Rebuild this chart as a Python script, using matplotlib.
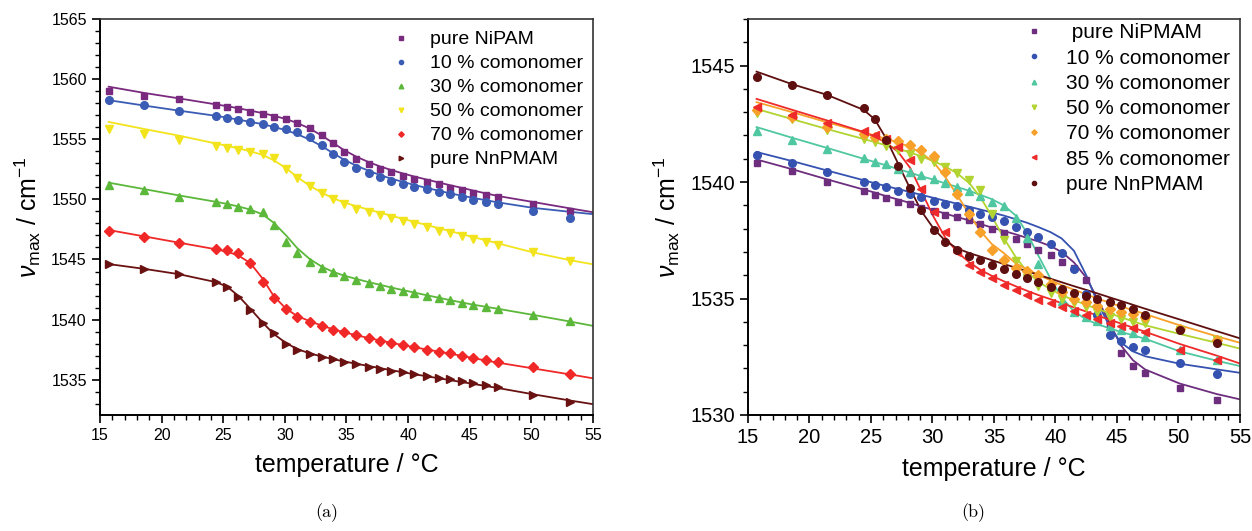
import matplotlib
matplotlib.use("Agg")
import matplotlib.pyplot as plt
from matplotlib.ticker import MultipleLocator

plt.rcParams["font.family"] = ["Liberation Sans", "DejaVu Sans"]
plt.rcParams["mathtext.fontset"] = "custom"
plt.rcParams["mathtext.rm"] = "Liberation Sans"
plt.rcParams["mathtext.it"] = "Liberation Sans:italic"

# measured temperatures (°C), same for every sample
T = [15.7, 18.6, 21.4, 24.4, 25.3, 26.2, 27.2, 28.2, 29.1, 30.1, 31.0, 32.0,
     33.0, 33.9, 34.8, 35.8, 36.8, 37.7, 38.6, 39.6, 40.5, 41.5, 42.5, 43.4,
     44.4, 45.3, 46.3, 47.3, 50.1, 53.1]
# temperatures at which the fitted curves were read
FIT_T = T + [55.0]

# ---- panel (a): measured band maxima ----
a_nipam = [1559.04, 1558.6, 1558.35, 1557.88, 1557.7, 1557.5, 1557.28, 1557.08,
           1556.86, 1556.66, 1556.37, 1555.93, 1555.36, 1554.67, 1553.9, 1553.38,
           1552.95, 1552.55, 1552.25, 1551.95, 1551.67, 1551.45, 1551.26, 1550.98,
           1550.79, 1550.57, 1550.37, 1550.18, 1549.62, 1549.07]
a_10 = [1558.27, 1557.85, 1557.35, 1556.94, 1556.76, 1556.57, 1556.41, 1556.25,
        1556.06, 1555.86, 1555.63, 1555.22, 1554.53, 1553.78, 1553.1, 1552.62,
        1552.22, 1551.84, 1551.53, 1551.3, 1551.06, 1550.84, 1550.6, 1550.43,
        1550.23, 1549.95, 1549.76, 1549.62, 1549.07, 1548.43]
a_30 = [1551.2, 1550.79, 1550.23, 1549.75, 1549.58, 1549.4, 1549.18, 1548.98,
        1547.9, 1546.48, 1545.52, 1544.83, 1544.3, 1543.95, 1543.6, 1543.3,
        1543.03, 1542.78, 1542.57, 1542.39, 1542.2, 1542.0, 1541.83, 1541.6,
        1541.42, 1541.23, 1541.09, 1540.9, 1540.4, 1539.9]
a_50 = [1555.83, 1555.44, 1554.94, 1554.42, 1554.27, 1554.08, 1553.97, 1553.78,
        1553.43, 1552.5, 1551.76, 1551.1, 1550.56, 1550.07, 1549.62, 1549.23,
        1548.98, 1548.71, 1548.43, 1548.2, 1547.95, 1547.68, 1547.4, 1547.19,
        1546.96, 1546.69, 1546.44, 1546.21, 1545.6, 1544.86]
a_70 = [1547.38, 1546.9, 1546.36, 1545.9, 1545.75, 1545.57, 1544.75, 1543.1,
        1541.8, 1540.9, 1540.25, 1539.82, 1539.5, 1539.17, 1538.95, 1538.73,
        1538.48, 1538.25, 1538.09, 1537.9, 1537.7, 1537.5, 1537.34, 1537.2,
        1537.0, 1536.8, 1536.64, 1536.44, 1536.03, 1535.47]
a_nnpmam = [1544.6, 1544.2, 1543.76, 1543.16, 1542.75, 1541.85, 1540.78, 1539.73,
            1538.85, 1537.98, 1537.49, 1537.15, 1536.93, 1536.7, 1536.46, 1536.3,
            1536.1, 1535.93, 1535.76, 1535.63, 1535.47, 1535.32, 1535.18, 1535.07,
            1534.9, 1534.77, 1534.57, 1534.43, 1533.74, 1533.19]

# ---- panel (a): fitted curves ----
af_nipam = [1559.37, 1558.85, 1558.4, 1557.9, 1557.75, 1557.58, 1557.38, 1557.17,
            1556.95, 1556.68, 1556.35, 1555.9, 1555.3, 1554.7, 1554.1, 1553.55,
            1553.1, 1552.75, 1552.45, 1552.15, 1551.9, 1551.65, 1551.4, 1551.18,
            1550.95, 1550.73, 1550.5, 1550.28, 1549.79, 1549.26, 1548.93]
af_10 = [1558.25, 1557.8, 1557.38, 1556.95, 1556.8, 1556.63, 1556.45, 1556.25,
         1556.03, 1555.75, 1555.42, 1554.98, 1554.42, 1553.85, 1553.3, 1552.8,
         1552.38, 1552.03, 1551.73, 1551.45, 1551.2, 1550.95, 1550.72, 1550.5,
         1550.3, 1550.12, 1549.93, 1549.75, 1549.3, 1548.97, 1548.77]
af_30 = [1551.39, 1550.85, 1550.33, 1549.8, 1549.62, 1549.42, 1549.15, 1548.75,
         1548.05, 1547.0, 1545.95, 1545.05, 1544.4, 1543.98, 1543.66, 1543.38,
         1543.12, 1542.9, 1542.68, 1542.45, 1542.25, 1542.03, 1541.82, 1541.62,
         1541.42, 1541.24, 1541.07, 1540.9, 1540.4, 1539.85, 1539.48]
af_50 = [1556.44, 1555.85, 1555.3, 1554.65, 1554.45, 1554.25, 1554.0, 1553.7,
         1553.25, 1552.6, 1551.85, 1551.15, 1550.55, 1550.1, 1549.75, 1549.43,
         1549.15, 1548.9, 1548.65, 1548.38, 1548.13, 1547.87, 1547.6, 1547.36,
         1547.1, 1546.86, 1546.6, 1546.34, 1545.6, 1544.95, 1544.6]
af_70 = [1547.45, 1546.92, 1546.4, 1545.85, 1545.65, 1545.35, 1544.7, 1543.4,
         1541.95, 1540.9, 1540.3, 1539.88, 1539.5, 1539.2, 1538.95, 1538.7,
         1538.47, 1538.27, 1538.08, 1537.88, 1537.7, 1537.52, 1537.34, 1537.17,
         1536.98, 1536.8, 1536.6, 1536.42, 1535.95, 1535.45, 1535.12]
af_nnpmam = [1544.62, 1544.22, 1543.78, 1543.12, 1542.75, 1542.0, 1540.9, 1539.75,
             1538.8, 1538.05, 1537.55, 1537.2, 1536.93, 1536.72, 1536.52, 1536.33,
             1536.14, 1535.97, 1535.8, 1535.62, 1535.46, 1535.29, 1535.12, 1534.97,
             1534.8, 1534.65, 1534.48, 1534.31, 1533.8, 1533.28, 1532.97]

# ---- panel (b): measured band maxima ----
b_nipmam = [1540.83, 1540.46, 1540.0, 1539.61, 1539.46, 1539.33, 1539.16, 1539.04,
            1538.88, 1538.74, 1538.6, 1538.5, 1538.36, 1538.19, 1538.0, 1537.81,
            1537.57, 1537.33, 1537.1, 1536.86, 1536.57, 1536.3, 1535.78, 1535.0,
            1533.9, 1532.64, 1532.1, 1531.79, 1531.14, 1530.64]
b_10 = [1541.17, 1540.81, 1540.43, 1540.02, 1539.89, 1539.79, 1539.62, 1539.5,
        1539.36, 1539.18, 1539.07, 1538.96, 1538.81, 1538.64, 1538.5, 1538.31,
        1538.08, 1537.87, 1537.64, 1537.36, 1536.96, 1536.27, 1535.2, 1534.3,
        1533.43, 1533.18, 1532.93, 1532.8, 1532.24, 1531.75]
b_30 = [1542.19, 1541.81, 1541.43, 1541.03, 1540.87, 1540.79, 1540.57, 1540.43,
        1540.29, 1540.12, 1539.96, 1539.8, 1539.62, 1539.4, 1539.14, 1538.96,
        1538.46, 1537.6, 1536.5, 1535.6, 1534.9, 1534.42, 1534.21, 1534.03,
        1533.82, 1533.65, 1533.52, 1533.36, 1532.79, 1532.34]
b_50 = [1542.95, 1542.71, 1542.24, 1541.86, 1541.71, 1541.55, 1541.39, 1541.19,
        1541.0, 1540.86, 1540.64, 1540.39, 1540.1, 1539.67, 1538.64, 1537.5,
        1536.6, 1535.9, 1535.53, 1535.24, 1535.0, 1534.81, 1534.64, 1534.43,
        1534.21, 1534.1, 1534.0, 1533.96, 1533.64, 1533.24]
b_70 = [1543.1, 1542.8, 1542.35, 1542.05, 1541.95, 1541.86, 1541.75, 1541.57,
        1541.39, 1541.12, 1540.43, 1539.5, 1538.64, 1537.86, 1537.1, 1536.67,
        1536.33, 1536.2, 1536.0, 1535.64, 1535.3, 1535.0, 1534.86, 1534.7,
        1534.57, 1534.42, 1534.33, 1534.21, 1533.7, 1533.22]
b_85 = [1543.24, 1542.86, 1542.53, 1542.21, 1542.02, 1541.85, 1541.5, 1540.93,
        1539.71, 1538.7, 1537.86, 1537.0, 1536.43, 1536.14, 1535.9, 1535.6,
        1535.35, 1535.14, 1534.93, 1534.81, 1534.65, 1534.46, 1534.3, 1534.1,
        1533.93, 1533.83, 1533.75, 1533.57, 1532.79, 1532.36]
b_nnpmam = [1544.53, 1544.16, 1543.73, 1543.17, 1542.72, 1541.82, 1540.71, 1539.76,
            1538.8, 1537.96, 1537.43, 1537.1, 1536.83, 1536.64, 1536.43, 1536.26,
            1536.05, 1535.86, 1535.71, 1535.5, 1535.43, 1535.24, 1535.1, 1535.0,
            1534.86, 1534.71, 1534.53, 1534.31, 1533.64, 1533.1]

# ---- panel (b): fitted curves ----
bf_nipmam = [1540.97, 1540.55, 1540.12, 1539.68, 1539.55, 1539.4, 1539.25, 1539.1,
             1538.95, 1538.8, 1538.65, 1538.5, 1538.35, 1538.2, 1538.05, 1537.9,
             1537.75, 1537.6, 1537.45, 1537.25, 1537.0, 1536.55, 1535.9, 1535.0,
             1533.95, 1533.0, 1532.35, 1531.95, 1531.35, 1530.9, 1530.67]
bf_10 = [1541.29, 1540.9, 1540.5, 1540.08, 1539.95, 1539.83, 1539.7, 1539.57,
         1539.45, 1539.32, 1539.2, 1539.07, 1538.94, 1538.82, 1538.7, 1538.56,
         1538.4, 1538.25, 1538.07, 1537.85, 1537.58, 1537.05, 1536.0, 1534.85,
         1533.8, 1533.12, 1532.73, 1532.52, 1532.2, 1531.96, 1531.81]
bf_30 = [1542.36, 1541.9, 1541.47, 1541.0, 1540.86, 1540.72, 1540.56, 1540.4,
         1540.25, 1540.1, 1539.95, 1539.79, 1539.62, 1539.45, 1539.27, 1539.0,
         1538.55, 1537.8, 1536.85, 1535.85, 1535.05, 1534.45, 1534.1, 1533.9,
         1533.72, 1533.57, 1533.42, 1533.27, 1532.73, 1532.33, 1532.1]
bf_50 = [1543.14, 1542.7, 1542.28, 1541.85, 1541.72, 1541.58, 1541.43, 1541.27,
         1541.1, 1540.9, 1540.68, 1540.38, 1539.95, 1539.35, 1538.55, 1537.6,
         1536.75, 1536.15, 1535.72, 1535.4, 1535.15, 1534.93, 1534.73, 1534.55,
         1534.37, 1534.2, 1534.02, 1533.85, 1533.48, 1533.1, 1532.85]
bf_70 = [1543.43, 1543.0, 1542.57, 1542.13, 1542.0, 1541.86, 1541.7, 1541.5,
         1541.25, 1540.85, 1540.25, 1539.45, 1538.6, 1537.9, 1537.35, 1536.95,
         1536.5, 1536.25, 1536.02, 1535.78, 1535.58, 1535.38, 1535.18, 1535.0,
         1534.82, 1534.66, 1534.5, 1534.33, 1533.85, 1533.38, 1533.1]
bf_85 = [1543.57, 1543.1, 1542.65, 1542.15, 1541.95, 1541.7, 1541.3, 1540.6,
         1539.6, 1538.5, 1537.65, 1537.0, 1536.55, 1536.23, 1535.98, 1535.74,
         1535.52, 1535.33, 1535.15, 1534.97, 1534.8, 1534.62, 1534.44, 1534.27,
         1534.09, 1533.93, 1533.75, 1533.57, 1533.05, 1532.55, 1532.21]
bf_nnpmam = [1544.74, 1544.2, 1543.75, 1543.1, 1542.7, 1541.9, 1540.8, 1539.7,
             1538.75, 1538.0, 1537.5, 1537.15, 1536.95, 1536.8, 1536.65, 1536.48,
             1536.32, 1536.17, 1536.02, 1535.85, 1535.7, 1535.53, 1535.37, 1535.22,
             1535.05, 1534.9, 1534.73, 1534.56, 1534.1, 1533.6, 1533.29]

panel_a = [
    ("pure NiPAM", a_nipam, af_nipam, "#7a2a7e", "s", 5.0),
    ("10 % comonomer", a_10, af_10, "#3b5cb4", "o", 5.5),
    ("30 % comonomer", a_30, af_30, "#5cb83a", "^", 6.0),
    ("50 % comonomer", a_50, af_50, "#f2e41c", "v", 6.0),
    ("70 % comonomer", a_70, af_70, "#f02828", "D", 5.0),
    ("pure NnPMAM", a_nnpmam, af_nnpmam, "#6a1212", ">", 6.0),
]
panel_b = [
    (" pure NiPMAM", b_nipmam, bf_nipmam, "#6e2e7e", "s", 5.0),
    ("10 % comonomer", b_10, bf_10, "#3652b0", "o", 5.5),
    ("30 % comonomer", b_30, bf_30, "#4fc7a0", "^", 6.0),
    ("50 % comonomer", b_50, bf_50, "#b2d430", "v", 6.0),
    ("70 % comonomer", b_70, bf_70, "#f7a02a", "D", 5.0),
    ("85 % comonomer", b_85, bf_85, "#ee2a2a", "<", 6.0),
    ("pure NnPMAM", b_nnpmam, bf_nnpmam, "#5e0f0f", "o", 5.5),
]


def draw_panel(ax, series, ylim, tick_fs, leg_fs, leg_space, leg_anchor):
    for label, pts, fit, color, marker, ms in series:
        ax.plot(FIT_T, fit, color=color, lw=1.3, zorder=2)
        ax.plot(T, pts, ls="none", marker=marker, ms=ms, color=color,
                mec=color, label=label, zorder=3)
    ax.set_xlim(15, 55)
    ax.set_ylim(*ylim)
    ax.xaxis.set_major_locator(MultipleLocator(5))
    ax.xaxis.set_minor_locator(MultipleLocator(1))
    ax.yaxis.set_major_locator(MultipleLocator(5))
    ax.yaxis.set_minor_locator(MultipleLocator(1))
    ax.tick_params(which="major", direction="out", length=6, width=1.2,
                   labelsize=tick_fs, top=False, right=False)
    ax.tick_params(which="minor", direction="out", length=3.5, width=1.0,
                   top=False, right=False)
    for side in ("left", "bottom"):
        ax.spines[side].set_linewidth(1.4)
        ax.spines[side].set_color("black")
    for side in ("top", "right"):
        ax.spines[side].set_linewidth(1.2)
        ax.spines[side].set_color("#333333")
    ax.set_xlabel("temperature / °C", fontsize=18, labelpad=7)
    ax.set_ylabel(r"$\mathit{\nu}_{\mathrm{max}}$ / cm$^{-1}$", fontsize=18,
                  labelpad=6)
    ax.legend(loc="upper right", bbox_to_anchor=leg_anchor, frameon=False,
              fontsize=leg_fs, markerscale=0.55, handlelength=1.2,
              handletextpad=0.9, labelspacing=leg_space, borderaxespad=0.3,
              borderpad=0.2)


fig = plt.figure(figsize=(12.52, 5.31), dpi=100)
ax_a = fig.add_axes([0.0799, 0.2185, 0.3937, 0.7457])
ax_b = fig.add_axes([0.5974, 0.2185, 0.3930, 0.7457])

draw_panel(ax_a, panel_a, (1532.07, 1565), 11.5, 14, 0.33, (1.0, 0.995))
draw_panel(ax_b, panel_b, (1530, 1547), 14.5, 15, 0.3, (1.0, 1.015))

fig.text(0.261, 0.034, "(a)", family="cmr10", fontsize=13, ha="center",
         va="center")
fig.text(0.777, 0.034, "(b)", family="cmr10", fontsize=13, ha="center",
         va="center")

fig.savefig("out.png", dpi=100)
